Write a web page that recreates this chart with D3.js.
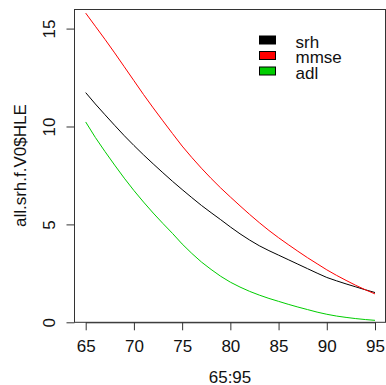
<!DOCTYPE html>
<html>
<head>
<meta charset="utf-8">
<script src="https://cdn.jsdelivr.net/npm/d3@7"></script>
<style>
  html, body { margin: 0; padding: 0; background: #fff; }
  svg { display: block; font-family: "Liberation Sans", Arial, sans-serif; }
</style>
</head>
<body>
<svg id="chart" width="386" height="385"></svg>
<script>
// ---- data ----
const ages = d3.range(65, 96);
const srh = [11.73, 11.15, 10.60, 10.06, 9.53, 9.03, 8.55, 8.09, 7.64, 7.20, 6.78,
             6.37, 5.97, 5.60, 5.24, 4.87, 4.52, 4.20, 3.91, 3.66, 3.43,
             3.20, 2.97, 2.74, 2.51, 2.29, 2.12, 1.96, 1.81, 1.66, 1.52];
const mmse = [15.79, 15.12, 14.45, 13.76, 13.05, 12.34, 11.63, 10.95, 10.29, 9.64, 9.00,
              8.42, 7.87, 7.35, 6.86, 6.40, 5.95, 5.51, 5.09, 4.69, 4.32,
              3.97, 3.63, 3.30, 2.99, 2.68, 2.40, 2.14, 1.89, 1.66, 1.45];
const adl = [10.23, 9.44, 8.72, 8.03, 7.36, 6.73, 6.14, 5.58, 5.05, 4.54, 4.00,
             3.52, 3.08, 2.70, 2.35, 2.05, 1.80, 1.58, 1.39, 1.22, 1.07,
             0.92, 0.78, 0.65, 0.52, 0.41, 0.32, 0.25, 0.19, 0.14, 0.10];
const seriesNames = ["srh", "mmse", "adl"];
const seriesColors = ["#000000", "#ff0000", "#00cd00"];
const xTicks = [65, 70, 75, 80, 85, 90, 95];
const yTicks = [0, 5, 10, 15];
const xTitle = "65:95";
const yTitle = "all.srh.f.V0$HLE";

// ---- layout ----
const box = { left: 74.5, right: 385.5, top: 9, bottom: 322.3 };
const x = d3.scaleLinear().domain([65, 95]).range([85.7, 375]);
const y = d3.scaleLinear().domain([0, 16]).range([box.bottom, box.top]);
const fontSize = 17;

const svg = d3.select("#chart");

// lines
const seriesData = [srh, mmse, adl];
const line = d3.line().x((d, i) => x(ages[i])).y(d => y(d));
seriesData.forEach((vals, k) => {
  svg.append("path")
    .datum(vals)
    .attr("d", line)
    .attr("fill", "none")
    .attr("stroke", seriesColors[k])
    .attr("stroke-width", 1);
});

// x axis
const xAxis = svg.append("g")
  .attr("transform", `translate(0,${box.bottom})`)
  .call(d3.axisBottom(x).tickValues(xTicks).tickSize(8).tickSizeOuter(0).tickPadding(6));
xAxis.select(".domain").attr("stroke", "#333");
xAxis.selectAll(".tick line").attr("stroke", "#333");
xAxis.selectAll(".tick text")
  .attr("font-size", fontSize)
  .attr("font-family", "Liberation Sans, Arial, sans-serif")
  .attr("fill", "#111")
  .attr("y", 29.5)
  .attr("dy", 0);

// y axis
const yAxis = svg.append("g")
  .attr("transform", `translate(${box.left},0)`)
  .call(d3.axisLeft(y).tickValues(yTicks).tickSize(8).tickSizeOuter(0));
yAxis.select(".domain").remove();
yAxis.selectAll(".tick line").attr("stroke", "#333");
yAxis.selectAll(".tick text")
  .attr("font-size", fontSize)
  .attr("font-family", "Liberation Sans, Arial, sans-serif")
  .attr("fill", "#111")
  .attr("x", 0).attr("dy", 0)
  .attr("text-anchor", "middle")
  .attr("transform", "translate(-19.5,0) rotate(-90)");

// box
svg.append("rect")
  .attr("x", box.left).attr("y", box.top + 0.5)
  .attr("width", box.right - box.left).attr("height", box.bottom - box.top - 0.5)
  .attr("fill", "none").attr("stroke", "#333").attr("stroke-width", 1);

// axis titles
svg.append("text")
  .attr("x", (box.left + box.right) / 2).attr("y", 382.5)
  .attr("text-anchor", "middle").attr("font-size", fontSize).attr("fill", "#111")
  .text(xTitle);
svg.append("text")
  .attr("transform", `translate(25.5,${(box.top + box.bottom) / 2}) rotate(-90)`)
  .attr("text-anchor", "middle").attr("font-size", fontSize).attr("fill", "#111")
  .text(yTitle);

// legend
const legend = svg.append("g");
seriesNames.forEach((name, k) => {
  const cy = 40 + k * 15.5;
  legend.append("rect")
    .attr("x", 259.5).attr("y", cy - 4)
    .attr("width", 16).attr("height", 8)
    .attr("fill", seriesColors[k]).attr("stroke", "#000").attr("stroke-width", 1);
  legend.append("text")
    .attr("x", 295.5).attr("y", cy + 7.5)
    .attr("font-size", fontSize).attr("fill", "#111")
    .text(name);
});
</script>
</body>
</html>
